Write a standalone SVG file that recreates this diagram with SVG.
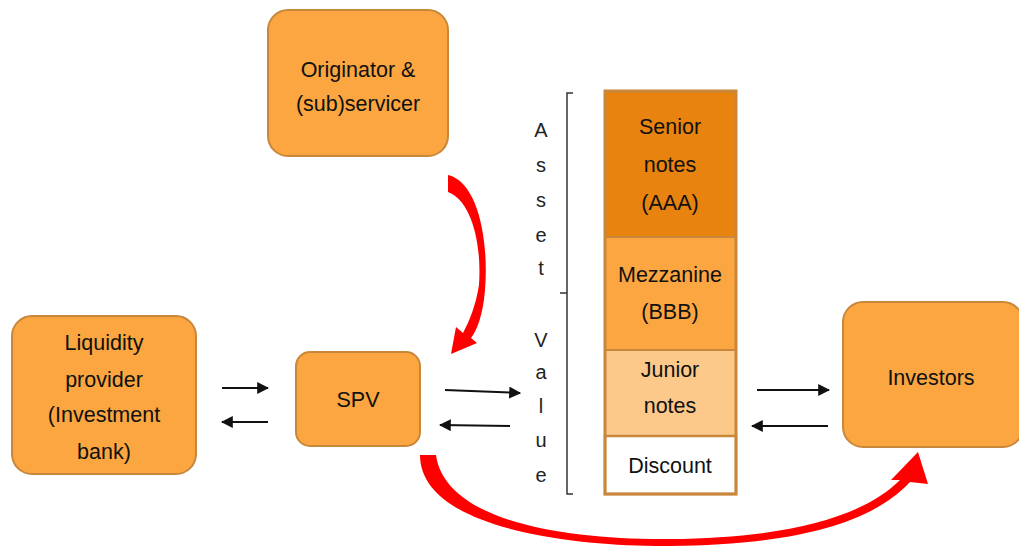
<svg xmlns="http://www.w3.org/2000/svg" width="1019" height="546" viewBox="0 0 1019 546">
<style>
.box{fill:#FBA640;stroke:#C8873A;stroke-width:2}
.t{font-family:"Liberation Sans",Arial,sans-serif;font-size:21.5px;fill:#111;text-anchor:middle}
.v{font-family:"Liberation Sans",Arial,sans-serif;font-size:20px;fill:#222;text-anchor:middle}
.ar{stroke:#111;stroke-width:2;fill:none;marker-end:url(#ah)}
.red{fill:#FF0000}
</style>
<defs>
<marker id="ah" viewBox="0 0 10 10" refX="9" refY="5" markerWidth="6" markerHeight="6" orient="auto" markerUnits="strokeWidth">
<path d="M0,0 L10,5 L0,10 z" fill="#111"/>
</marker>
</defs>
<rect width="1019" height="546" fill="#fff"/>
<g id="originator"><rect class="box" x="268" y="10" width="180" height="146" rx="20"/>
<text class="t" x="358" y="77">Originator &amp;</text><text class="t" x="358" y="111">(sub)servicer</text></g>
<g id="liquidity"><rect class="box" x="12" y="316" width="184" height="158" rx="20"/>
<text class="t" x="104" y="350">Liquidity</text><text class="t" x="104" y="387">provider</text><text class="t" x="104" y="422">(Investment</text><text class="t" x="104" y="459">bank)</text></g>
<g id="spv"><rect class="box" x="296" y="352" width="124" height="94" rx="14"/>
<text class="t" x="358" y="407">SPV</text></g>
<g id="investors"><rect class="box" x="843" y="302" width="180" height="145" rx="20"/>
<text class="t" x="931" y="385">Investors</text></g>
<g id="stack">
<rect x="605" y="91" width="131" height="146" fill="#E8830F" stroke="#C8873A" stroke-width="2"/>
<rect x="605" y="237" width="131" height="113" fill="#FBA640" stroke="#C8873A" stroke-width="2"/>
<rect x="605" y="350" width="131" height="86" fill="#FDC98A" stroke="#C8873A" stroke-width="2"/>
<rect x="605" y="436" width="131" height="58" fill="#fff" stroke="#C8873A" stroke-width="2.5"/>
<rect x="605" y="91" width="131" height="403" fill="none" stroke="#C8873A" stroke-width="3"/>
<text class="t" x="670" y="134">Senior</text><text class="t" x="670" y="172">notes</text><text class="t" x="670" y="210">(AAA)</text>
<text class="t" x="670" y="282">Mezzanine</text><text class="t" x="670" y="319">(BBB)</text>
<text class="t" x="670" y="377">Junior</text><text class="t" x="670" y="413">notes</text>
<text class="t" x="670" y="473">Discount</text>
</g>
<g id="asset-value">
<path d="M573,93 L567,93 L567,293 L560,293 M567,293 L567,494 L573,494" fill="none" stroke="#333" stroke-width="1.5"/>
<text class="v" x="541" y="137">A</text><text class="v" x="541" y="172">s</text><text class="v" x="541" y="207">s</text><text class="v" x="541" y="242">e</text><text class="v" x="541" y="275">t</text>
<text class="v" x="541" y="347">V</text><text class="v" x="541" y="379">a</text><text class="v" x="541" y="413">l</text><text class="v" x="541" y="447">u</text><text class="v" x="541" y="482">e</text>
</g>
<g id="connectors">
<line class="ar" x1="222" y1="388" x2="268" y2="388"/>
<line class="ar" x1="268" y1="422" x2="222" y2="422"/>
<line class="ar" x1="445" y1="390" x2="520" y2="393"/>
<line class="ar" x1="510" y1="426" x2="440" y2="425"/>
<line class="ar" x1="757" y1="390" x2="829" y2="390"/>
<line class="ar" x1="828" y1="426" x2="752" y2="426"/>
<path class="red" d="M448,175 C478,182 489,240 485,290 C483,315 477,330 471,338 L477,343 L451,354 L456,327 L463,333 C469,322 476,305 479,285 C482,240 470,200 448,192 Z"/>
<path class="red" d="M420,455 C420,525 560,547 670,546 C790,545 870,525 910,482 L928,484 L918,452 L891,480 L900,480 C862,518 785,538 670,539 C560,540 445,520 436,455 Z"/>
</g>
</svg>
